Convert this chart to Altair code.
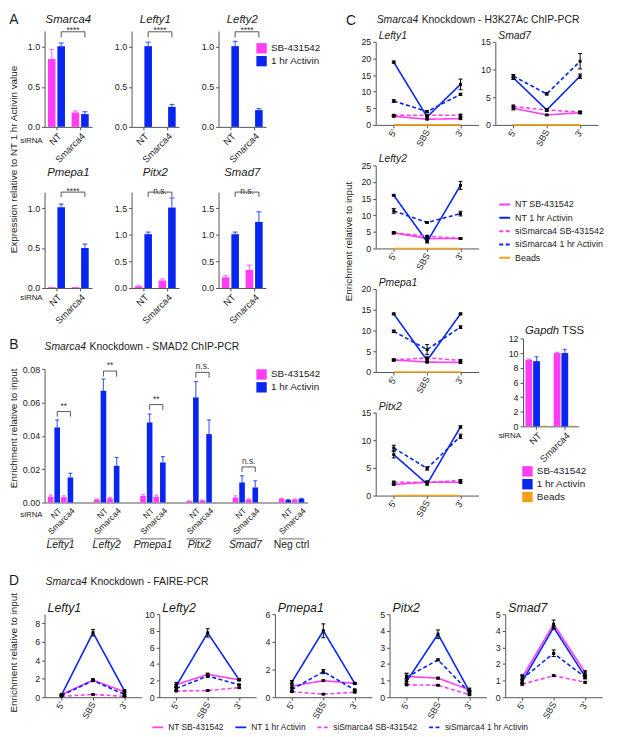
import altair as alt
import pandas as pd

FONT = "Liberation Sans"
PINK = "#FF3EF4"
BLUE = "#0826F0"
ORANGE = "#F5A01A"
INK = "#1b1b1b"
AX = "#555555"

SIRNA = ["NT", "Smarca4"]
TREAT = ["SB-431542", "1 hr Activin"]
TREAT3 = ["SB-431542", "1 hr Activin", "Beads"]

# ---------------- Panel A : expression (order NT-SB, NT-Act, Smarca4-SB, Smarca4-Act)
A_MEAN = {
    "Smarca4": [0.85, 1.01, 0.18, 0.16],
    "Lefty1": [0.0, 1.01, 0.0, 0.25],
    "Lefty2": [0.0, 1.01, 0.0, 0.21],
    "Pmepa1": [0.01, 1.01, 0.01, 0.50],
    "Pitx2": [0.03, 1.01, 0.14, 1.51],
    "Smad7": [0.20, 1.01, 0.34, 1.24],
}
A_ERR = {
    "Smarca4": [0.12, 0.04, 0.02, 0.03],
    "Lefty1": [0.0, 0.05, 0.0, 0.03],
    "Lefty2": [0.0, 0.06, 0.0, 0.02],
    "Pmepa1": [0.0, 0.04, 0.0, 0.05],
    "Pitx2": [0.01, 0.04, 0.03, 0.18],
    "Smad7": [0.03, 0.04, 0.09, 0.19],
}
A_YMAX = {"Smarca4": 1.2, "Lefty1": 1.2, "Lefty2": 1.2, "Pmepa1": 1.2, "Pitx2": 1.8, "Smad7": 1.8}
A_TICKS = {"Smarca4": [0, 0.5, 1.0], "Lefty1": [0, 0.5, 1.0], "Lefty2": [0, 0.5, 1.0],
           "Pmepa1": [0, 0.5, 1.0], "Pitx2": [0, 0.5, 1.0, 1.5], "Smad7": [0, 0.5, 1.0, 1.5]}
A_SIG = {"Smarca4": "****", "Lefty1": "****", "Lefty2": "****", "Pmepa1": "****", "Pitx2": "n.s.", "Smad7": "n.s."}
A_BRACKET = {"Smarca4": [1.12, 1.19], "Lefty1": [1.12, 1.19], "Lefty2": [1.12, 1.19],
             "Pmepa1": [1.14, 1.20], "Pitx2": [1.71, 1.80], "Smad7": [1.71, 1.80]}

# ---------------- Panel B : SMAD2 ChIP
B_GENES = ["Lefty1", "Lefty2", "Pmepa1", "Pitx2", "Smad7", "Neg ctrl"]
B_MEAN = {
    "Lefty1": [0.0035, 0.045, 0.0032, 0.015],
    "Lefty2": [0.0018, 0.067, 0.0025, 0.022],
    "Pmepa1": [0.0040, 0.048, 0.0035, 0.024],
    "Pitx2": [0.0008, 0.063, 0.0012, 0.041],
    "Smad7": [0.0030, 0.012, 0.0018, 0.009],
    "Neg ctrl": [0.0022, 0.0015, 0.0018, 0.0022],
}
B_ERR = {
    "Lefty1": [0.001, 0.0045, 0.0008, 0.0025],
    "Lefty2": [0.0003, 0.007, 0.0005, 0.005],
    "Pmepa1": [0.0008, 0.005, 0.001, 0.0035],
    "Pitx2": [0.0002, 0.0095, 0.0003, 0.0085],
    "Smad7": [0.001, 0.004, 0.0003, 0.004],
    "Neg ctrl": [0.0003, 0.0002, 0.0003, 0.0003],
}
B_SIG = {"Lefty1": "**", "Lefty2": "**", "Pmepa1": "**", "Pitx2": "n.s.", "Smad7": "n.s."}
B_BRACKET = {"Lefty1": [0.0515, 0.0545], "Lefty2": [0.0755, 0.0788], "Pmepa1": [0.0555, 0.0587],
             "Pitx2": [0.0748, 0.078], "Smad7": [0.0183, 0.0213]}
B_SUB = [f"{s}|{t}" for s in SIRNA for t in TREAT]

# ---------------- Panel C : H3K27Ac ChIP (series x site)
SITES = ["5'", "SBS", "3'"]
SERIES = ["NT SB-431542", "NT 1 hr Activin", "siSmarca4 SB-431542", "siSmarca4 1 hr Activin"]
C_VAL = {
    "Lefty1": [[2.6, 1.7, 1.9], [18.9, 2.4, 12.2], [2.9, 2.9, 2.9], [7.2, 4.0, 9.2]],
    "Smad7": [[3.0, 1.8, 2.2], [8.5, 2.7, 8.8], [3.3, 2.7, 2.3], [8.8, 5.6, 11.5]],
    "Lefty2": [[4.7, 3.0, 3.0], [16.0, 2.0, 19.0], [4.7, 3.7, 3.0], [11.3, 7.8, 10.5]],
    "Pmepa1": [[2.9, 2.4, 2.3], [14.0, 2.8, 14.0], [2.9, 3.4, 2.8], [9.8, 5.4, 10.8]],
    "Pitx2": [[2.0, 2.4, 2.4], [7.4, 2.1, 12.4], [2.4, 2.4, 2.7], [8.6, 4.9, 10.7]],
}
C_ERR = {
    "Lefty1": [[0.2, 0.1, 0.3], [0.3, 0.3, 1.6], [0.2, 0.2, 0.3], [0.4, 0.3, 0.3]],
    "Smad7": [[0.3, 0.1, 0.2], [0.3, 0.2, 0.4], [0.3, 0.2, 0.2], [0.3, 0.2, 1.4]],
    "Lefty2": [[0.3, 0.2, 0.2], [0.2, 0.3, 1.2], [0.2, 0.2, 0.2], [0.7, 0.2, 0.7]],
    "Pmepa1": [[0.2, 0.2, 0.2], [0.2, 0.3, 0.2], [0.2, 0.2, 0.2], [0.3, 1.2, 0.3]],
    "Pitx2": [[0.1, 0.2, 0.2], [0.6, 0.2, 0.2], [0.2, 0.2, 0.2], [0.5, 0.3, 0.4]],
}
C_BEADS = [0.0, 0.0, 0.0]
C_YMAX = {"Lefty1": 25, "Smad7": 15, "Lefty2": 25, "Pmepa1": 20, "Pitx2": 15}
C_TICKS = {"Lefty1": [0, 5, 10, 15, 20, 25], "Smad7": [0, 5, 10, 15], "Lefty2": [0, 5, 10, 15, 20, 25],
           "Pmepa1": [0, 5, 10, 15, 20], "Pitx2": [0, 5, 10, 15]}

# Gapdh TSS (NT: SB, Act, Beads ; Smarca4: SB, Act, Beads)
G_MEAN = [9.1, 8.9, 0.1, 10.0, 10.0, 0.1]
G_ERR = [0.1, 0.6, 0.0, 0.1, 0.5, 0.0]

# ---------------- Panel D : FAIRE
D_VAL = {
    "Lefty1": [[0.3, 1.85, 0.6], [0.25, 7.0, 0.7], [0.1, 0.3, 0.1], [0.2, 1.8, 0.3]],
    "Lefty2": [[1.5, 2.75, 2.1], [1.35, 7.75, 2.1], [0.75, 0.8, 1.15], [1.05, 2.55, 1.5]],
    "Pmepa1": [[0.8, 1.2, 1.0], [1.1, 4.8, 1.0], [0.4, 0.22, 0.36], [0.55, 1.85, 0.53]],
    "Pitx2": [[1.25, 1.15, 0.45], [0.95, 3.8, 0.35], [0.75, 0.72, 0.15], [1.2, 2.25, 0.3]],
    "Smad7": [[1.2, 4.4, 1.5], [0.95, 4.2, 1.25], [0.78, 1.3, 0.9], [1.1, 2.65, 1.2]],
}
D_ERR = {
    "Lefty1": [[0.05, 0.15, 0.1], [0.05, 0.35, 0.1], [0.02, 0.05, 0.02], [0.05, 0.1, 0.05]],
    "Lefty2": [[0.3, 0.15, 0.1], [0.2, 0.5, 0.1], [0.05, 0.05, 0.05], [0.2, 0.15, 0.05]],
    "Pmepa1": [[0.1, 0.05, 0.05], [0.1, 0.5, 0.05], [0.03, 0.03, 0.03], [0.1, 0.15, 0.05]],
    "Pitx2": [[0.15, 0.05, 0.1], [0.15, 0.25, 0.05], [0.05, 0.03, 0.05], [0.25, 0.05, 0.1]],
    "Smad7": [[0.15, 0.25, 0.1], [0.1, 0.1, 0.1], [0.05, 0.05, 0.05], [0.2, 0.2, 0.1]],
}
D_YMAX = {"Lefty1": 9, "Lefty2": 10, "Pmepa1": 6, "Pitx2": 5, "Smad7": 5}
D_TICKS = {"Lefty1": [0, 2, 4, 6, 8], "Lefty2": [0, 2, 4, 6, 8, 10], "Pmepa1": [0, 2, 4, 6],
           "Pitx2": [0, 1, 2, 3, 4, 5], "Smad7": [0, 1, 2, 3, 4, 5]}

# ---------------- layout frames (x1, x2, y1, y2 relative to each plot origin)
FR = {
    "YT": (0, 11, 0, 552), "AHEAD": (0, 1, 0, 1),
    "A1": (-25, 64, -18, 136), "A2": (-24, 64, -18, 136), "A3": (-24, 140, -18, 136),
    "A4": (-25, 64, -27, 138), "A5": (-24, 64, -27, 138), "A6": (-24, 140, -27, 138),
    "B": (-25, 316, -41, 191),
    "CHEAD": (-19, 236, 0, 15),
    "C1": (-19, 105, -15, 111), "C2": (-16, 115, -15, 111),
    "C3": (-19, 107, -14, 112), "C4": (-19, 107, -13, 112), "C5": (-19, 107, -13, 147),
    "GHEAD": (-42, 87, 0, 100), "G": (-42, 87, -75, 222),
    "DHEAD": (0, 607, -13, 17), "DYT": (0, 11, -27, 107),
    "D1": (-25, 99, -27, 107), "D2": (-17, 100, -27, 107), "D3": (-17, 99, -27, 107),
    "D4": (-17, 100, -27, 107), "D5": (-17, 105, -27, 107),
    "DLEG": (0, 607, 0, 13),
}


# ======================================================================
def frame(fr):
    x1, x2, y1, y2 = fr
    return alt.Chart(pd.DataFrame({"f": [0]})).mark_rect(opacity=0).encode(
        x=alt.value(x1), x2=alt.value(x2), y=alt.value(y1), y2=alt.value(y2))


def label(text, x, y, size=10.0, style="normal", align="left", baseline="middle", angle=0, color=INK):
    return alt.Chart(pd.DataFrame({"t": [text]})).mark_text(
        font=FONT, fontSize=size, fontStyle=style, align=align, baseline=baseline, angle=angle, color=color
    ).encode(x=alt.value(x), y=alt.value(y), text="t:N")


def yaxis(values, fmt):
    return alt.Axis(title=None, values=values, format=fmt, labelFontSize=9, labelColor=INK, labelFont=FONT,
                    domainColor=AX, tickColor=AX, tickSize=3, labelPadding=2, grid=False)


def bar_legend(x, y):
    return alt.Legend(title=None, orient="none", legendX=x, legendY=y, symbolType="square", symbolSize=110,
                      symbolStrokeWidth=0, symbolOpacity=1, labelFontSize=10, labelFont=FONT, labelColor=INK,
                      rowPadding=2, labelOffset=4)


def line_legend(x, y, horizontal=False):
    kw = dict(title=None, orient="none", legendX=x, legendY=y, symbolType="stroke", symbolStrokeWidth=2,
              symbolSize=120, labelFontSize=9, labelFont=FONT, labelColor=INK, rowPadding=1.5,
              labelOffset=4)
    if horizontal:
        kw.update(direction="horizontal", columns=4, columnPadding=7, labelFontSize=8.5)
    return alt.Legend(**kw)


def unit(fr, layers=()):
    return alt.layer(frame(fr), *layers).properties(width=1, height=1)


def legend_layer(series, colors, dashes, legend):
    df = pd.DataFrame({"series": series, "v": [0.0] * len(series)})
    return alt.Chart(df).transform_filter("datum.v > 1").mark_line().encode(
        x=alt.X("v:Q", axis=None, scale=alt.Scale(domain=[0, 1])),
        y=alt.Y("v:Q", axis=None, scale=alt.Scale(domain=[0, 1])),
        color=alt.Color("series:N", scale=alt.Scale(domain=series, range=colors), legend=legend),
        strokeDash=alt.StrokeDash("series:N", scale=alt.Scale(domain=series, range=dashes), legend=legend))


def a_chart(gene, fr, title_y, extras=(), legend=None, W=48, H=97):
    m, e = A_MEAN[gene], A_ERR[gene]
    df = pd.DataFrame({"siRNA": [s for s in SIRNA for _ in TREAT], "treat": TREAT * len(SIRNA),
                       "mean": m, "err": e})
    df["top"] = df["mean"] + df["err"]
    pi, po = 0.24, 0.12
    x = alt.X("siRNA:N", scale=alt.Scale(type="band", domain=SIRNA, paddingInner=pi, paddingOuter=po),
              axis=alt.Axis(title=None, labelAngle=315, labelFontSize=9.5, labelColor=INK, labelFont=FONT,
                            domainColor=AX, tickColor=AX, tickSize=3, labelPadding=1))
    xo = alt.XOffset("treat:N", scale=alt.Scale(domain=TREAT, paddingInner=0.2, paddingOuter=0.05))
    ys = alt.Scale(domain=[0, A_YMAX[gene]], nice=False, zero=True)
    yax = yaxis(A_TICKS[gene], ".1f")

    def Y(f):
        return alt.Y(f, scale=ys, axis=yax)

    col = alt.Color("treat:N", scale=alt.Scale(domain=TREAT, range=[PINK, BLUE]), legend=legend)
    base = alt.Chart(df)
    bars = base.mark_bar(opacity=1).encode(x=x, xOffset=xo, y=Y("mean:Q"), color=col)
    err = base.transform_filter("datum.err > 0").mark_rule(strokeWidth=1.2, opacity=0.7).encode(
        x=x, xOffset=xo, y=Y("mean:Q"), y2="top:Q", color=col)
    cap = base.transform_filter("datum.err > 0").mark_tick(orient="horizontal", size=5, thickness=1.2,
                                                           opacity=0.7).encode(
        x=x, xOffset=xo, y=Y("top:Q"), color=col)
    lo, hi = A_BRACKET[gene]
    bdf = pd.DataFrame({"siRNA": ["NT", "NT", "Smarca4", "Smarca4"], "treat": [TREAT[1]] * 4,
                        "v": [lo, hi, hi, lo], "o": [0, 1, 2, 3]})
    brk = alt.Chart(bdf).mark_line(color="#444444", strokeWidth=0.9).encode(
        x=x, xOffset=xo, y=Y("v:Q"), order="o:Q")
    step = W / (len(SIRNA) - pi + 2 * po)
    sdf = pd.DataFrame({"siRNA": ["NT"], "treat": [TREAT[1]], "v": [hi], "t": [A_SIG[gene]]})
    sig = alt.Chart(sdf).mark_text(font=FONT, fontSize=8.5, color="#333333", baseline="alphabetic",
                                   dx=step / 2, dy=1.5).encode(x=x, xOffset=xo, y=Y("v:Q"), text="t:N")
    title = label(gene, W / 2, title_y, size=11.5, style="italic", align="center")
    return alt.layer(frame(fr), bars, err, cap, brk, sig, title, *extras).properties(width=W, height=H)


def b_chart(fr, extras=(), W=266, H=135):
    rows = []
    for g in B_GENES:
        for k, sub in enumerate(B_SUB):
            s, t = sub.split("|")
            rows.append(dict(gene=g, sub=sub, treat=t, mean=B_MEAN[g][k], err=B_ERR[g][k]))
    df = pd.DataFrame(rows)
    df["top"] = df["mean"] + df["err"]
    pi, po, spi = 0.45, 0.07, 0.15
    x = alt.X("gene:N", scale=alt.Scale(type="band", domain=B_GENES, paddingInner=pi, paddingOuter=po),
              axis=alt.Axis(title=None, labelAngle=0, ticks=False, tickSize=0, labelPadding=38,
                            labelFontSize=10.5, labelFont=FONT, labelColor=INK, domainColor=AX,
                            labelFontStyle={"condition": {"test": "datum.value == 'Neg ctrl'", "value": "normal"},
                                            "value": "italic"}))
    xo = alt.XOffset("sub:N", scale=alt.Scale(domain=B_SUB, paddingInner=spi, paddingOuter=0))
    ys = alt.Scale(domain=[0, 0.08], nice=False)
    yax = yaxis([0, 0.02, 0.04, 0.06, 0.08], ".2f")

    def Y(f):
        return alt.Y(f, scale=ys, axis=yax)

    col = alt.Color("treat:N", scale=alt.Scale(domain=TREAT, range=[PINK, BLUE]), legend=bar_legend(214, 0))
    base = alt.Chart(df)
    bars = base.mark_bar(opacity=1).encode(x=x, xOffset=xo, y=Y("mean:Q"), color=col)
    err = base.mark_rule(strokeWidth=1.2, opacity=0.7).encode(x=x, xOffset=xo, y=Y("mean:Q"), y2="top:Q", color=col)
    cap = base.mark_tick(orient="horizontal", size=4, thickness=1.2, opacity=0.7).encode(
        x=x, xOffset=xo, y=Y("top:Q"), color=col)
    brows = []
    for g, (lo, hi) in B_BRACKET.items():
        for o, (s, v) in enumerate([("NT", lo), ("NT", hi), ("Smarca4", hi), ("Smarca4", lo)]):
            brows.append(dict(gene=g, sub=f"{s}|{TREAT[1]}", v=v, o=o))
    brk = alt.Chart(pd.DataFrame(brows)).mark_line(color="#444444", strokeWidth=0.9).encode(
        x=x, xOffset=xo, y=Y("v:Q"), order="o:Q", detail="gene:N")
    step = W / (len(B_GENES) - pi + 2 * po)
    sub_step = step * (1 - pi) / (len(B_SUB) - spi)
    sdf = pd.DataFrame({"gene": list(B_SIG.keys()), "sub": [f"NT|{TREAT[1]}"] * len(B_SIG),
                        "v": [B_BRACKET[g][1] for g in B_SIG], "t": list(B_SIG.values())})
    sig = alt.Chart(sdf).mark_text(font=FONT, fontSize=8.5, color="#333333", baseline="bottom",
                                   dx=sub_step, dy=-1).encode(x=x, xOffset=xo, y=Y("v:Q"), text="t:N")
    ldf = pd.DataFrame({"gene": [g for g in B_GENES for _ in SIRNA],
                        "sub": [f"{s}|{TREAT[1]}" for _ in B_GENES for s in SIRNA],
                        "t": [s for _ in B_GENES for s in SIRNA]})
    lab = alt.Chart(ldf).mark_text(font=FONT, fontSize=8.5, color=INK, angle=315, align="right",
                                   baseline="top").encode(x=x, xOffset=xo, y=alt.value(H + 4), text="t:N")
    gdf = pd.DataFrame({"gene": B_GENES})
    gline = alt.Chart(gdf).mark_bar(color="#9a9a9a").encode(x=x, y=alt.value(H + 36), y2=alt.value(H + 37.5))
    return alt.layer(frame(fr), bars, err, cap, brk, sig, lab, gline, *extras).properties(width=W, height=H)


def g_chart(fr, extras=(), W=56, H=89):
    df = pd.DataFrame({"siRNA": [s for s in SIRNA for _ in TREAT3], "treat": TREAT3 * len(SIRNA),
                       "mean": G_MEAN, "err": G_ERR})
    df["top"] = df["mean"] + df["err"]
    x = alt.X("siRNA:N", scale=alt.Scale(type="band", domain=SIRNA, paddingInner=0.2, paddingOuter=0.08),
              axis=alt.Axis(title=None, labelAngle=315, labelFontSize=9.5, labelColor=INK, labelFont=FONT,
                            domainColor=AX, tickColor=AX, tickSize=3, labelPadding=1))
    xo = alt.XOffset("treat:N", scale=alt.Scale(domain=TREAT3, paddingInner=0.12, paddingOuter=0.02))
    ys = alt.Scale(domain=[0, 12], nice=False)
    yax = yaxis([0, 2, 4, 6, 8, 10, 12], "d")

    def Y(f):
        return alt.Y(f, scale=ys, axis=yax)

    col = alt.Color("treat:N", scale=alt.Scale(domain=TREAT3, range=[PINK, BLUE, ORANGE]),
                    legend=bar_legend(-1, 129))
    base = alt.Chart(df)
    bars = base.mark_bar(opacity=1).encode(x=x, xOffset=xo, y=Y("mean:Q"), color=col)
    err = base.transform_filter("datum.err > 0").mark_rule(strokeWidth=1.2, opacity=0.7).encode(
        x=x, xOffset=xo, y=Y("mean:Q"), y2="top:Q", color=col)
    cap = base.transform_filter("datum.err > 0").mark_tick(orient="horizontal", size=4, thickness=1.2,
                                                           opacity=0.7).encode(
        x=x, xOffset=xo, y=Y("top:Q"), color=col)
    return alt.layer(frame(fr), bars, err, cap, *extras).properties(width=W, height=H)


def line_chart(gene, vals, errs, ymax, ticks, beads, fr, tsize, extras=(), W=104, H=84):
    series = SERIES + (["Beads"] if beads else [])
    colors = [PINK, BLUE, PINK, BLUE] + ([ORANGE] if beads else [])
    dashes = [[1, 0], [1, 0], [4, 2.5], [4, 2.5]] + ([[1, 0]] if beads else [])
    rows = []
    for si, s in enumerate(SERIES):
        for k, site in enumerate(SITES):
            v, e = vals[si][k], errs[si][k]
            rows.append(dict(series=s, site=site, idx=k, v=v, lo=v - e, hi=v + e, err=e))
    if beads:
        for k, site in enumerate(SITES):
            rows.append(dict(series="Beads", site=site, idx=k, v=C_BEADS[k], lo=C_BEADS[k], hi=C_BEADS[k], err=0))
    df = pd.DataFrame(rows)
    x = alt.X("site:N", scale=alt.Scale(type="point", domain=SITES, padding=0.54),
              axis=alt.Axis(title=None, labelAngle=300, labelFontSize=9, labelColor=INK, labelFont=FONT,
                            domainColor=AX, tickColor=AX, tickSize=3, labelPadding=2))
    ys = alt.Scale(domain=[0, ymax], nice=False)
    yax = yaxis(ticks, "d")

    def Y(f):
        return alt.Y(f, scale=ys, axis=yax)

    col = alt.Color("series:N", scale=alt.Scale(domain=series, range=colors), legend=None)
    dash = alt.StrokeDash("series:N", scale=alt.Scale(domain=series, range=dashes), legend=None)
    base = alt.Chart(df)
    lines = base.mark_line(strokeWidth=1.6).encode(x=x, y=Y("v:Q"), color=col, strokeDash=dash, order="idx:Q")
    pts = base.transform_filter("datum.series != 'Beads'").mark_square(size=9, color="black", opacity=1).encode(
        x=x, y=Y("v:Q"))
    eb = base.transform_filter("datum.err > 0")
    err = eb.mark_rule(color="black", strokeWidth=1).encode(x=x, y=Y("lo:Q"), y2="hi:Q")
    cap1 = eb.mark_tick(orient="horizontal", size=4, thickness=1, color="black", opacity=1).encode(x=x, y=Y("hi:Q"))
    cap2 = eb.mark_tick(orient="horizontal", size=4, thickness=1, color="black", opacity=1).encode(x=x, y=Y("lo:Q"))
    title = label(gene, 3, -6, size=tsize, style="italic")
    return alt.layer(frame(fr), lines, err, cap1, cap2, pts, title, *extras).properties(width=W, height=H)


def cchart(gene, key, extras=()):
    return line_chart(gene, C_VAL[gene], C_ERR[gene], C_YMAX[gene], C_TICKS[gene], True, FR[key], 10.5, extras)


def dchart(gene, key, extras=()):
    return line_chart(gene, D_VAL[gene], D_ERR[gene], D_YMAX[gene], D_TICKS[gene], False, FR[key], 12.5,
                      extras, W=98)


# ---------------- build panels
YT = unit(FR["YT"], [
    label("A", 5, 7.5, size=14, align="center"),
    label("Expression relative to NT 1 hr Activin value", 5.5, 149, size=10, angle=270, align="center"),
    label("B", 5, 337, size=14, align="center"),
    label("Enrichment relative to input", 5.5, 421, size=10, angle=270, align="center"),
])
AHEAD = unit(FR["AHEAD"])
A1 = a_chart("Smarca4", FR["A1"], -11.5, extras=[label("siRNA", -2, 111, size=8, align="right")])
A2 = a_chart("Lefty1", FR["A2"], -11.5)
A3 = a_chart("Lefty2", FR["A3"], -11.5, extras=[label("C", 134, -10, size=14, align="center")],
             legend=bar_legend(38, 12))
A4 = a_chart("Pmepa1", FR["A4"], -19, extras=[label("siRNA", -2, 107, size=8, align="right")])
A5 = a_chart("Pitx2", FR["A5"], -19)
A6 = a_chart("Smad7", FR["A6"], -19,
             extras=[label("Enrichment relative to input", 132, 50, size=10, angle=270, align="center")])
B = b_chart(FR["B"], extras=[
    label("Smarca4", 0, -22, size=10.5, style="italic"),
    label("Knockdown - SMAD2 ChIP-PCR", 45.5, -22, size=10.5),
    label("siRNA", -2, 148, size=8, align="right"),
])

CHEAD = unit(FR["CHEAD"], [
    label("Smarca4", 1, 8, size=10.5, style="italic"),
    label("Knockdown - H3K27Ac ChIP-PCR", 46.5, 8, size=10.5),
])
C1 = cchart("Lefty1", "C1")
C2 = cchart("Smad7", "C2")
C3 = cchart("Lefty2", "C3")
C4 = cchart("Pmepa1", "C4")
C5 = cchart("Pitx2", "C5")
GHEAD = unit(FR["GHEAD"], [legend_layer(SERIES + ["Beads"], [PINK, BLUE, PINK, BLUE, ORANGE],
                                        [[1, 0], [1, 0], [4, 2.5], [4, 2.5], [1, 0]], line_legend(-25, 33))])
G = g_chart(FR["G"], extras=[
    label("Gapdh", 2, -7, size=11.5, style="italic"),
    label("TSS", 39.5, -7, size=11.5),
    label("siRNA", -2, 99, size=8, align="right"),
])

DHEAD = unit(FR["DHEAD"], [
    label("D", 5, 10, size=14, align="center"),
    label("Smarca4", 37, 11, size=10.5, style="italic"),
    label("Knockdown - FAIRE-PCR", 82.5, 11, size=10.5),
])
DYT = unit(FR["DYT"], [label("Enrichment relative to input", 5.5, 39, size=10, angle=270, align="center")])
D1 = dchart("Lefty1", "D1")
D2 = dchart("Lefty2", "D2")
D3 = dchart("Pmepa1", "D3")
D4 = dchart("Pitx2", "D4")
D5 = dchart("Smad7", "D5")
DLEG = unit(FR["DLEG"], [legend_layer(SERIES, [PINK, BLUE, PINK, BLUE], [[1, 0], [1, 0], [4, 2.5], [4, 2.5]],
                                      line_legend(144, 0, horizontal=True))])

RES = dict(color="independent", strokeDash="independent", x="independent", y="independent",
           xOffset="independent")


def hcat(*c):
    return alt.hconcat(*c, spacing=0).resolve_scale(**RES)


def vcat(*c):
    return alt.vconcat(*c, spacing=0).resolve_scale(**RES)


LEFT = vcat(AHEAD, hcat(A1, A2, A3), hcat(A4, A5, A6), B)
CCOL = vcat(CHEAD, hcat(C1, C2), hcat(vcat(C3, C4, C5), vcat(GHEAD, G)))
TOP = hcat(YT, LEFT, CCOL)
DBLOCK = vcat(DHEAD, hcat(DYT, D1, D2, D3, D4, D5), DLEG)

chart = alt.vconcat(TOP, DBLOCK, spacing=0, padding=0).resolve_scale(**RES).configure_view(
    stroke="transparent", strokeWidth=0
).configure_concat(spacing=0).configure_axis(grid=False, labelFont=FONT).configure_legend(labelFont=FONT)

chart.save("out.html", embed_options={"renderer": "svg", "actions": False})
